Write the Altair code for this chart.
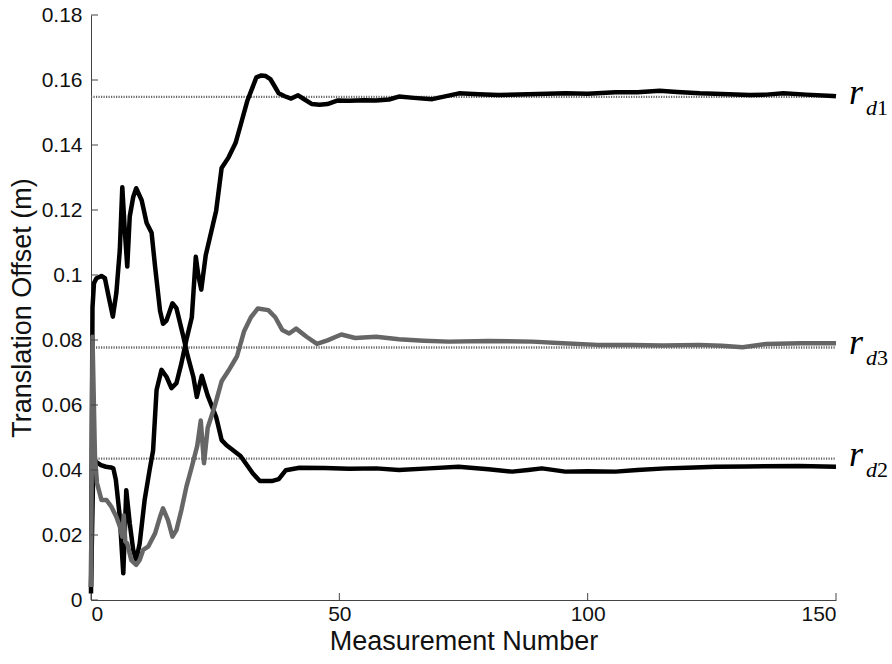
import altair as alt
import pandas as pd

# ---- Series converging to r_d1 (black) ----
a_x = [0, 0.5, 1, 2, 3, 4, 4.5, 5, 5.8, 6.2, 6.5, 6.8, 7.1, 7.8, 8.5, 9.1, 9.8, 10.8, 11.8, 12.5,
       13.2, 14.2, 15.2, 16.2, 17.2, 18.2, 19.2, 20.3, 21.1, 21.6, 22.2, 23.1, 24.2, 25.2, 26.3, 27.7,
       29.1, 30.1, 31.5, 33.3, 34.3, 35.2, 36.1, 37.0, 37.8, 39, 40.3, 41.7, 43, 44.5, 46, 47.6, 49.7,
       52, 55, 57.4, 60, 62, 65, 68.7, 74.1, 78, 82.1, 88, 95.6, 100, 105.6, 110, 114.5, 118, 122.6,
       127, 132.6, 136, 139.4, 144, 149.4, 150]
a_y = [0.004, 0.044, 0.0425, 0.0415, 0.041, 0.0408, 0.0405, 0.037, 0.0256, 0.0154, 0.0082, 0.0205,
       0.0338, 0.0236, 0.0154, 0.0123, 0.0174, 0.0308, 0.040, 0.046, 0.0646, 0.0708, 0.0687, 0.0652,
       0.0667, 0.0728, 0.080, 0.087, 0.1056, 0.100, 0.0955, 0.1061, 0.1132, 0.1198, 0.1329, 0.1362,
       0.1406, 0.146, 0.1537, 0.1608, 0.1614, 0.1612, 0.1603, 0.158, 0.1559, 0.155, 0.1543, 0.1553,
       0.154, 0.1526, 0.1524, 0.1526, 0.1537, 0.1536, 0.1538, 0.1537, 0.154, 0.1549, 0.1545, 0.1541,
       0.1559, 0.1556, 0.1554, 0.1556, 0.1559, 0.1558, 0.1562, 0.1562, 0.1567, 0.1563, 0.1559, 0.1557,
       0.1554, 0.1555, 0.1559, 0.1555, 0.1551, 0.155]

# ---- Series converging to r_d2 (black) ----
b_x = [0, 0.3, 0.6, 1.1, 2.1, 2.8, 3.6, 4.4, 5.1, 5.8, 6.3, 6.8, 7.3, 7.8, 8.5, 9.1, 10.2, 11.2, 12.2,
       12.9, 13.9, 14.5, 15.2, 16.4, 17.2, 18.6, 19.4, 20.6, 21.3, 22.3, 23.5, 25.2, 26.3, 27.3, 30.1,
       32.6, 34, 36.4, 37.8, 39.2, 42, 47, 52, 57.4, 62, 68, 74, 80, 84.8, 88, 90.8, 95.5, 100, 105.6,
       110, 115.7, 120, 125.8, 132, 142.6, 150]
b_y = [0.002, 0.09, 0.0975, 0.099, 0.0997, 0.099, 0.093, 0.0872, 0.0944, 0.1077, 0.127, 0.1138,
       0.1026, 0.118, 0.124, 0.1267, 0.123, 0.116, 0.113, 0.1026, 0.089, 0.085, 0.086, 0.0913, 0.0898,
       0.081, 0.0755, 0.0687, 0.0625, 0.069, 0.0629, 0.0563, 0.0492, 0.0476, 0.0443, 0.0389, 0.0366,
       0.0366, 0.0372, 0.0399, 0.0407, 0.0406, 0.0404, 0.0405, 0.040, 0.0405, 0.041, 0.0402, 0.0395,
       0.040, 0.0405, 0.0395, 0.0396, 0.0395, 0.040, 0.0405, 0.0407, 0.041, 0.0411, 0.0412, 0.041]

# ---- Series converging to r_d3 (grey) ----
c_x = [0, 0.3, 0.8, 1.2, 2.1, 3.1, 4.1, 5.1, 5.8, 6.3, 6.6, 6.9, 7.3, 8.1, 9.1, 9.8, 10.5, 11.5, 12.9,
       13.9, 14.5, 15.5, 16.4, 17.2, 18.2, 19.2, 20.3, 21.4, 22.1, 22.75, 23.5, 24.9, 26.3, 27.7, 29.4,
       30.8, 32.2, 33.6, 35.7, 37.1, 38.5, 39.9, 41.3, 43.4, 45.5, 47.6, 50.4, 53.2, 57.4, 62, 67, 72,
       80, 88.9, 95, 102, 109, 115, 122.5, 127, 131.2, 136, 142.8, 150]
c_y = [0.004, 0.081, 0.044, 0.036, 0.0308, 0.0308, 0.0287, 0.0256, 0.0226, 0.0195, 0.026, 0.018,
       0.0174, 0.0123, 0.0108, 0.0123, 0.0154, 0.0164, 0.0205, 0.0256, 0.0282, 0.0246, 0.0195, 0.0215,
       0.0277, 0.0348, 0.041, 0.0475, 0.0552, 0.0421, 0.053, 0.0596, 0.0673, 0.0706, 0.075, 0.0826,
       0.087, 0.0897, 0.0892, 0.087, 0.0831, 0.082, 0.0835, 0.081, 0.0788, 0.0799, 0.0817, 0.0806,
       0.081, 0.0802, 0.0798, 0.0795, 0.0797, 0.0795, 0.079, 0.0785, 0.0785, 0.0783, 0.0785, 0.0782,
       0.0778, 0.0788, 0.079, 0.079]

# ---- Reference (true) values and labels ----
ref_vals = [0.1548, 0.0777, 0.0435]
ref_sub = ["1", "3", "2"]

x_ticks = [0, 50, 100, 150]
y_ticks = [0, 0.02, 0.04, 0.06, 0.08, 0.1, 0.12, 0.14, 0.16, 0.18]

W, H = 745, 585
FONT = "Liberation Sans"
SERIF = "Liberation Serif"

xs = alt.Scale(domain=[0, 150], nice=False, zero=False)
ys = alt.Scale(domain=[0, 0.18], nice=False)

ref_df = pd.DataFrame({"x0": [0] * 3, "x1": [150] * 3, "y": ref_vals, "sub": ref_sub,
                       "r": ["r"] * 3, "d": ["d"] * 3, "xe": [150] * 3})

# base chart carrying axes: dotted reference lines
base = alt.Chart(ref_df).mark_rule(color="#666666", strokeWidth=2.4, strokeDash=[1.2, 1.3]).encode(
    x=alt.X("x0:Q", scale=xs, axis=alt.Axis(values=x_ticks, format="d", title="Measurement Number")),
    x2="x1:Q",
    y=alt.Y("y:Q", scale=ys, axis=alt.Axis(values=y_ticks, format="~g", title="Translation Offset (m)")),
)

def series(xv, yv, color):
    df = pd.DataFrame({"x": xv, "y": yv})
    return alt.Chart(df).mark_line(color=color, strokeWidth=4.5, strokeJoin="round").encode(
        x=alt.X("x:Q", scale=xs), y=alt.Y("y:Q", scale=ys))

line_a = series(a_x, a_y, "#000000")
line_b = series(b_x, b_y, "#000000")
line_c = series(c_x, c_y, "#666666")

# inward tick marks (MATLAB style)
ytick_df = pd.DataFrame({"v": y_ticks})
xtick_df = pd.DataFrame({"v": x_ticks})
yticks = alt.Chart(ytick_df).mark_rule(color="#444444", strokeWidth=1).encode(
    y=alt.Y("v:Q", scale=ys), x=alt.value(0), x2=alt.value(7))
xticks = alt.Chart(xtick_df).mark_rule(color="#444444", strokeWidth=1).encode(
    x=alt.X("v:Q", scale=xs), y=alt.value(H), y2=alt.value(H - 7))

lab_r = alt.Chart(ref_df).mark_text(font=SERIF, fontStyle="italic", fontSize=36, align="left",
                                    baseline="alphabetic", dx=13, dy=7, color="#000000").encode(
    x=alt.X("xe:Q", scale=xs), y=alt.Y("y:Q", scale=ys), text="r:N")
lab_d = alt.Chart(ref_df).mark_text(font=SERIF, fontStyle="italic", fontSize=22, align="left",
                                    baseline="alphabetic", dx=30, dy=18, color="#000000").encode(
    x=alt.X("xe:Q", scale=xs), y=alt.Y("y:Q", scale=ys), text="d:N")
lab_n = alt.Chart(ref_df).mark_text(font=SERIF, fontSize=22, align="left",
                                    baseline="alphabetic", dx=41, dy=18, color="#000000").encode(
    x=alt.X("xe:Q", scale=xs), y=alt.Y("y:Q", scale=ys), text="sub:N")

chart = alt.layer(base, line_a, line_b, line_c, yticks, xticks, lab_r, lab_d, lab_n).properties(
    width=W, height=H,
    autosize=alt.AutoSizeParams(type="none"),
    padding={"left": 91, "top": 15, "right": 56, "bottom": 64},
    background="#ffffff",
).configure_view(stroke=None).configure_axis(
    grid=False, ticks=False, tickSize=0, domainColor="#444444", domainWidth=1,
    labelFont=FONT, labelFontSize=21, labelColor="#111111",
    titleFont=FONT, titleFontSize=27, titleFontWeight="normal", titleColor="#111111",
).configure_axisY(labelPadding=9, titlePadding=5).configure_axisX(labelPadding=3, titlePadding=4)

chart.save("out.html", embed_options={"renderer": "svg", "actions": False})
